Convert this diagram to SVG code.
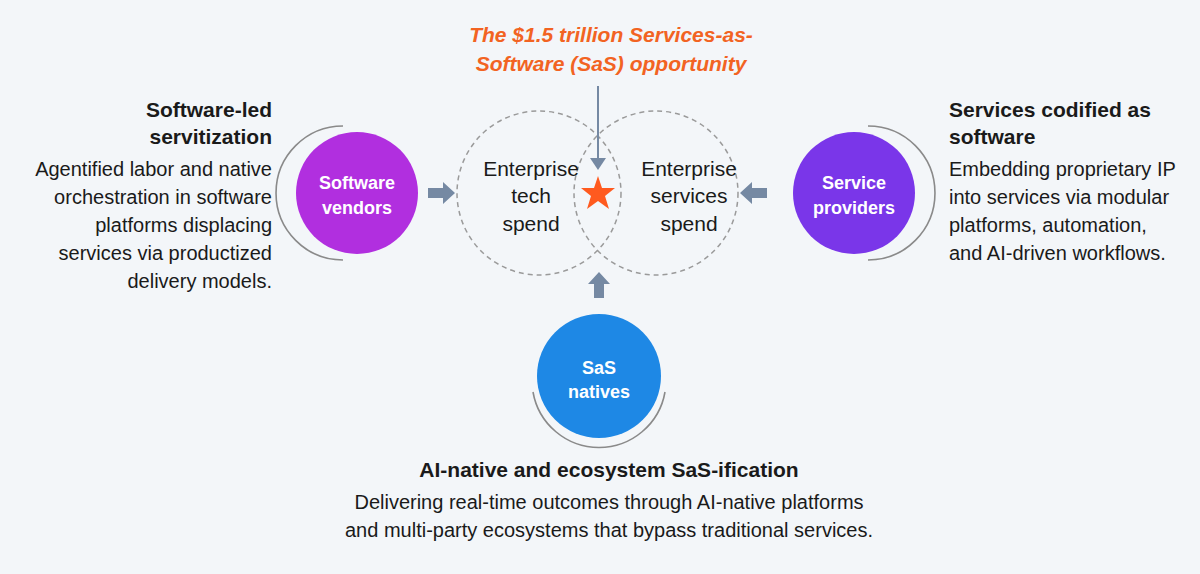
<svg xmlns="http://www.w3.org/2000/svg" width="1200" height="574" viewBox="0 0 1200 574">
<style>
.t{font-family:"Liberation Sans",Arial,sans-serif;fill:#1a1a1a}
.h{font-weight:bold;font-size:21px}
.b{font-size:20px}
.c{font-size:21px}
.w{font-family:"Liberation Sans",Arial,sans-serif;font-weight:bold;font-size:18px;fill:#fff}
.arc{fill:none;stroke:#8a8a8a;stroke-width:1.6}
.ar{fill:#7589a3}
</style>
<rect width="1200" height="574" fill="#f3f6f9"/>
<g id="venn" fill="none" stroke="#9a9a9a" stroke-width="1.5" stroke-dasharray="5 4">
<circle cx="539" cy="193" r="82"/>
<circle cx="656" cy="193" r="82"/>
</g>
<g id="venn-labels" class="t c" text-anchor="middle">
<text x="531" y="176">Enterprise</text><text x="531" y="203">tech</text><text x="531" y="231">spend</text>
<text x="689" y="176">Enterprise</text><text x="689" y="203">services</text><text x="689" y="231">spend</text>
</g>
<g id="title" text-anchor="middle" font-family="Liberation Sans, Arial, sans-serif" font-style="italic" font-weight="bold" font-size="21" fill="#f26322">
<text x="611" y="42">The $1.5 trillion Services-as-</text>
<text x="611" y="71">Software (SaS) opportunity</text>
</g>
<g id="connectors">
<line x1="598" y1="86" x2="598" y2="160" stroke="#7589a3" stroke-width="2"/>
<polygon class="ar" points="590,158 606,158 598,170"/>
<polygon class="ar" points="428,188 443,188 443,182 455,193 443,204 443,198 428,198"/>
<polygon class="ar" points="767,188 752,188 752,182 740,193 752,204 752,198 767,198"/>
<polygon class="ar" points="594,298 594,284 588,284 599,272 610,284 604,284 604,298"/>
</g>
<g id="star"><polygon fill="#ff5a1f" points="598,176 602,188 615,188 605,196 609,209 598,201 587,209 591,196 581,188 594,188"/></g>
<g id="software-vendors">
<path class="arc" d="M343,126 A67,67 0 0 0 343,260"/>
<circle cx="357" cy="193" r="61" fill="#b12fdf"/>
<text class="w" x="357" y="189" text-anchor="middle">Software</text>
<text class="w" x="357" y="214" text-anchor="middle">vendors</text>
</g>
<g id="service-providers">
<path class="arc" d="M868,126 A67,67 0 0 1 868,260"/>
<circle cx="854" cy="193" r="61" fill="#7a36e9"/>
<text class="w" x="854" y="189" text-anchor="middle">Service</text>
<text class="w" x="854" y="214" text-anchor="middle">providers</text>
</g>
<g id="sas-natives">
<path class="arc" d="M533,392 A67,67 0 0 0 665,392"/>
<circle cx="599" cy="376" r="62" fill="#1e88e5"/>
<text class="w" x="599" y="374" text-anchor="middle">SaS</text>
<text class="w" x="599" y="398" text-anchor="middle">natives</text>
</g>
<g id="left-text" class="t" text-anchor="end">
<text class="h" x="272" y="117">Software-led</text>
<text class="h" x="272" y="144">servitization</text>
<text class="b" x="272" y="176">Agentified labor and native</text>
<text class="b" x="272" y="204">orchestration in software</text>
<text class="b" x="272" y="232">platforms displacing</text>
<text class="b" x="272" y="260">services via productized</text>
<text class="b" x="272" y="288">delivery models.</text>
</g>
<g id="right-text" class="t">
<text class="h" x="949" y="117">Services codified as</text>
<text class="h" x="949" y="144">software</text>
<text class="b" x="949" y="176">Embedding proprietary IP</text>
<text class="b" x="949" y="204">into services via modular</text>
<text class="b" x="949" y="232">platforms, automation,</text>
<text class="b" x="949" y="260">and AI-driven workflows.</text>
</g>
<g id="bottom-text" class="t" text-anchor="middle">
<text class="h" x="609" y="477">AI-native and ecosystem SaS-ification</text>
<text class="b" x="609" y="509">Delivering real-time outcomes through AI-native platforms</text>
<text class="b" x="609" y="537">and multi-party ecosystems that bypass traditional services.</text>
</g>
</svg>
